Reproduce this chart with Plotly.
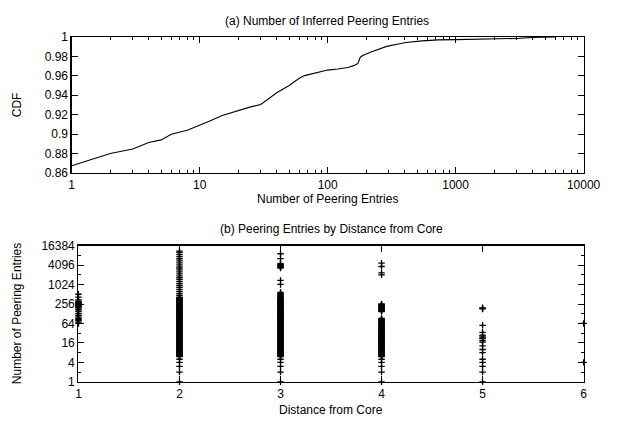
import plotly.graph_objects as go
import numpy as np

W, H = 618, 428

# ---------- (a) CDF data ----------
cdf_x = [1, 2, 3, 4, 5, 6, 8, 10, 11, 12, 15, 20, 25, 30, 40, 50, 55, 60, 66, 75, 85,
         100, 120, 144, 160, 172, 180, 188, 216, 250, 289, 350, 409, 547, 731,
         1000, 2000, 3000, 4000, 6000]
cdf_y = [0.8674, 0.8800, 0.8847, 0.8914, 0.8940, 0.8998, 0.9040, 0.9088, 0.9110, 0.9135,
         0.9191, 0.9245, 0.9280, 0.9305, 0.9426, 0.9500, 0.9540, 0.9575, 0.9602, 0.9620,
         0.9642, 0.9659, 0.9670, 0.9686, 0.9705, 0.9726, 0.9792, 0.9809, 0.9843, 0.9875,
         0.9903, 0.9925, 0.9943, 0.9960, 0.9970, 0.9973, 0.9980, 0.9985, 0.9995, 1.0000]

# ---------- (b) scatter data: peering entries per distance ----------
# values read from the solid part of the columns (every pixel row is marked)
solid_band = [6, 6.3, 6.5, 6.7, 7, 7.2, 7.5, 7.7, 8, 8.3, 8.6, 8.9, 9.2, 9.5, 9.9, 10.2,
              10.6, 11, 11.3, 11.7, 12.1, 12.6, 13, 13.5, 13.9, 14.4, 14.9, 15.5, 16,
              16.6, 17.1, 17.7, 18.4, 19, 19.7, 20.4, 21.1, 21.8, 22.6, 23.4, 24.3, 25.1,
              26, 26.9, 27.9, 28.9, 29.9, 31, 32, 33, 34, 36, 37, 38, 39, 41, 42, 44, 45,
              47, 48, 50, 52, 54, 56, 58, 60, 62, 64, 66, 69, 71, 74, 76, 79, 82, 84, 87,
              91, 94, 97, 100, 104, 108, 111, 115, 119, 123, 128, 132, 137, 142, 147, 152,
              158, 163, 169, 175, 181, 187, 194, 201, 208, 215, 223, 231, 239, 247, 256,
              265, 274, 284, 294, 304, 315, 326, 338, 350, 362, 375, 388, 402, 416]
dist1 = [64, 70, 78, 84, 90, 100, 112, 128, 150, 170, 180, 200, 210, 220, 230, 240,
         250, 256, 270, 280, 300, 340, 420, 512]
dist2 = [1, 2, 3, 4, 5] + solid_band + [
    478, 549, 630, 724, 832, 955, 1097, 1260, 1448, 1663, 1910, 2194, 2521, 2896, 3327,
    3822, 4390, 5043, 5793, 6654, 7643, 8780, 10086, 11000]
dist3 = [1, 2, 3, 4, 5] + solid_band + [445, 478, 512, 549, 590, 1030, 1380, 3300,
                                        3500, 3700, 3900, 4100, 4300, 4500, 6500, 9200]
dist4 = [1, 2, 3, 4, 5] + [v for v in solid_band if v <= 91] + [
    150, 158, 163, 169, 175, 181, 187, 194, 201, 208, 215, 223, 231, 239, 247, 256,
    2050, 2350, 3700, 4700]
dist5 = [1, 2, 3, 4, 5, 8, 10, 13, 17, 19, 22, 23, 26, 28, 34, 56, 180, 187, 195]
dist6 = [4, 64]

xs, ys = [], []
for d, vals in [(1, dist1), (2, dist2), (3, dist3), (4, dist4), (5, dist5), (6, dist6)]:
    xs += [d] * len(vals)
    ys += vals

pow2_major = [2 ** k for k in range(0, 15, 2)]
pow2_minor = [2 ** k for k in range(1, 15, 2)]
dec_minor = [m * 10 ** e for e in range(0, 4) for m in range(2, 10)]

fig = go.Figure()
fig.add_trace(go.Scatter(x=cdf_x, y=cdf_y, mode="lines",
                         line=dict(color="black", width=1.1),
                         hoverinfo="skip",
                         xaxis="x", yaxis="y", showlegend=False))
fig.add_trace(go.Scatter(x=xs, y=ys, mode="markers",
                         marker=dict(symbol="cross-thin", size=4.6, color="black",
                                     line=dict(color="black", width=1.3)),
                         cliponaxis=False, hoverinfo="skip",
                         xaxis="x2", yaxis="y2", showlegend=False))

def px(xp):
    return xp / W

def py(yp):
    return 1 - yp / H

font = dict(family="Liberation Sans, Arial, sans-serif", size=12, color="black")
axis_common = dict(showline=True, linecolor="black", linewidth=1.3, mirror="allticks",
                   ticks="inside", tickcolor="black", tickwidth=1, ticklen=6,
                   showgrid=False, zeroline=False, tickfont=font)

fig.update_layout(
    width=W, height=H,
    margin=dict(l=0, r=0, t=0, b=0),
    paper_bgcolor="white", plot_bgcolor="white",
    font=font, hovermode=False, dragmode=False,
    xaxis=dict(type="log", range=[0, 4], domain=[px(71), px(600)], anchor="y",
               tickvals=[1, 10, 100, 1000, 10000],
               ticktext=["1", "10", "100", "1000", "10000"],
               minor=dict(tickmode="array", tickvals=dec_minor, ticks="inside",
                          ticklen=3, tickcolor="black", tickwidth=1),
               **axis_common),
    yaxis=dict(range=[0.86, 1.0], domain=[py(171.5), py(31)], anchor="x",
               tickvals=[0.86, 0.88, 0.90, 0.92, 0.94, 0.96, 0.98, 1.0],
               ticktext=["0.86", "0.88", "0.9", "0.92", "0.94", "0.96", "0.98", "1"],
               **axis_common),
    xaxis2=dict(range=[1, 6], domain=[px(78), px(600)], anchor="y2",
                tickvals=[1, 2, 3, 4, 5, 6],
                **axis_common),
    yaxis2=dict(type="log", range=[0, np.log10(16384)], domain=[py(387.5), py(246.7)],
                anchor="x2",
                tickvals=pow2_major, ticktext=[str(v) for v in pow2_major],
                minor=dict(tickmode="array", tickvals=pow2_minor, ticks="inside",
                           ticklen=3, tickcolor="black", tickwidth=1),
                **axis_common),
)

ann = [
    ("(a) Number of Inferred Peering Entries", 335, 14, 0),
    ("Number of Peering Entries", 335, 199, 0),
    ("CDF", 14, 101, -90),
    ("(b) Peering Entries by Distance from Core", 339, 229, 0),
    ("Distance from Core", 339, 417, 0),
    ("Number of Peering Entries", 14, 317, -90),
]
for text, x, y, ang in ann:
    fig.add_annotation(text=text, x=px(x), y=py(y), xref="paper", yref="paper",
                       showarrow=False, textangle=ang, font=font,
                       xanchor="center", yanchor="middle")

fig.write_html("out.html",
               config={"displayModeBar": False, "staticPlot": True},
               post_script="document.body.style.margin='0px';"
                           "document.body.style.overflow='hidden';")
